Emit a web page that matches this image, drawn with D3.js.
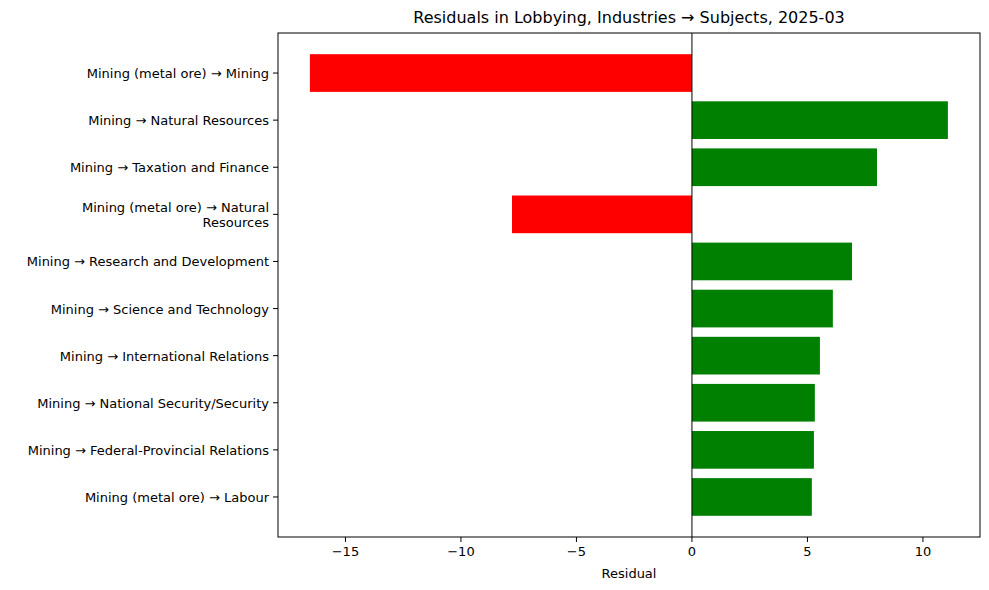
<!DOCTYPE html>
<html lang="en">
<head>
  <meta charset="UTF-8">
  <script src="https://d3js.org/d3.v7.min.js"></script>
  <style>
    body { margin: 0; background: #fff; font-family: "DejaVu Sans", sans-serif; }
    text { fill: #000; }
  </style>
</head>
<body>
<svg id="chart" width="989" height="590"></svg>
<script>
const labels = [
  "Mining (metal ore) → Mining",
  "Mining → Natural Resources",
  "Mining → Taxation and Finance",
  "Mining (metal ore) → Natural\nResources",
  "Mining → Research and Development",
  "Mining → Science and Technology",
  "Mining → International Relations",
  "Mining → National Security/Security",
  "Mining → Federal-Provincial Relations",
  "Mining (metal ore) → Labour"
];
const residuals = [-16.54, 11.08, 8.01, -7.79, 6.93, 6.10, 5.54, 5.32, 5.28, 5.19];
const xTicks = [-15, -10, -5, 0, 5, 10];

const L = 278, R = 980, T = 33, B = 537;
const svg = d3.select("#chart");
const x = d3.scaleLinear().domain([-17.92, 12.47]).range([L, R]);
const y = d3.scaleLinear().domain([-0.85, 9.85]).range([T, B]);
const bh = (y(1) - y(0)) * 0.8;

svg.selectAll("rect.bar").data(residuals).join("rect")
  .attr("x", d => x(Math.min(0, d)))
  .attr("width", d => Math.abs(x(d) - x(0)))
  .attr("y", (d, i) => y(i) - bh / 2)
  .attr("height", bh)
  .attr("fill", d => d < 0 ? "red" : "green");

svg.append("line").attr("x1", x(0)).attr("x2", x(0)).attr("y1", T).attr("y2", B)
  .attr("stroke", "black").attr("stroke-width", 1);

svg.append("rect").attr("x", L).attr("y", T).attr("width", R - L).attr("height", B - T)
  .attr("fill", "none").attr("stroke", "black").attr("stroke-width", 1);

// x axis
const xt = svg.append("g");
xTicks.forEach(t => {
  xt.append("line").attr("x1", x(t)).attr("x2", x(t)).attr("y1", B).attr("y2", B + 5).attr("stroke", "black");
  xt.append("text").attr("x", x(t)).attr("y", B + 19).attr("text-anchor", "middle")
    .attr("font-size", 13).text(t < 0 ? "\u2212" + Math.abs(t) : t);
});
svg.append("text").attr("x", (L + R) / 2).attr("y", 578).attr("text-anchor", "middle")
  .attr("font-size", 13).text("Residual");

// y axis
labels.forEach((lab, i) => {
  svg.append("line").attr("x1", L - 5).attr("x2", L).attr("y1", y(i)).attr("y2", y(i)).attr("stroke", "black");
  const lines = lab.split("\n");
  const t = svg.append("text").attr("x", L - 9).attr("text-anchor", "end").attr("font-size", 13);
  lines.forEach((ln, k) => {
    t.append("tspan").attr("x", L - 9)
      .attr("y", y(i) + 5 + (k - (lines.length - 1) / 2) * 15).text(ln);
  });
});

svg.append("text").attr("x", (L + R) / 2).attr("y", 23).attr("text-anchor", "middle")
  .attr("font-size", 16).text("Residuals in Lobbying, Industries → Subjects, 2025-03");
</script>
</body>
</html>
